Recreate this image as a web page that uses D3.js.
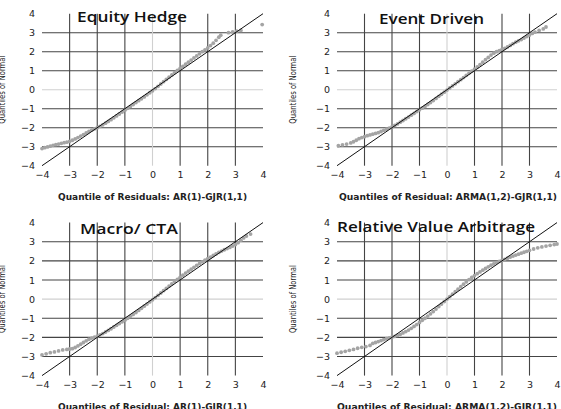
<!DOCTYPE html>
<html>
<head>
<meta charset="utf-8">
<script src="https://cdn.jsdelivr.net/npm/d3@7"></script>
<style>
  body { margin: 0; background: #fff; }
  svg { display: block; }
</style>
</head>
<body>
<div id="chart"></div>
<script>
// Tick values shared by every panel
const TICKS = [-4, -3, -2, -1, 0, 1, 2, 3, 4];
const GRID_TICKS = [-3, -2, -1, 0, 1, 2, 3];

const titles = ["Equity Hedge", "Event Driven", "Macro/ CTA", "Relative Value Arbitrage"];
const xTitles = [
    "Quantile of Residuals: AR(1)-GJR(1,1)",
    "Quantiles of Residual: ARMA(1,2)-GJR(1,1)",
    "Quantiles of Residual: AR(1)-GJR(1,1)",
    "Quantiles of Residual: ARMA(1,2)-GJR(1,1)"
];
const yTitle = "Quantiles of Normal";

// QQ points [residual quantile, normal quantile]
const equityHedge = [
    [-4.0,-3.1],[-3.9,-3.05],[-3.8,-3.01],[-3.7,-2.97],[-3.6,-2.93],[-3.5,-2.89],[-3.4,-2.86],
    [-3.3,-2.82],[-3.2,-2.79],[-3.1,-2.76],[-3.0,-2.72],[-2.9,-2.66],[-2.8,-2.59],[-2.7,-2.52],
    [-2.6,-2.44],[-2.5,-2.36],[-2.4,-2.28],[-2.3,-2.2],[-2.2,-2.13],[-2.1,-2.06],[-2.0,-2.0],
    [-1.9,-1.93],[-1.8,-1.85],[-1.7,-1.76],[-1.6,-1.67],[-1.5,-1.58],[-1.4,-1.48],[-1.3,-1.38],
    [-1.2,-1.28],[-1.1,-1.18],[-1.0,-1.08],[-0.9,-0.98],[-0.8,-0.88],[-0.7,-0.78],[-0.6,-0.68],
    [-0.5,-0.58],[-0.4,-0.48],[-0.3,-0.38],[-0.2,-0.27],[-0.1,-0.16],[0.0,-0.06],[0.1,0.06],
    [0.2,0.18],[0.3,0.3],[0.4,0.42],[0.5,0.54],[0.6,0.66],[0.7,0.78],[0.8,0.9],[0.9,1.01],
    [1.0,1.12],[1.1,1.23],[1.2,1.34],[1.3,1.45],[1.4,1.56],[1.5,1.67],[1.6,1.78],[1.7,1.89],
    [1.8,2.0],[1.9,2.1],[2.0,2.2],[2.1,2.32],[2.2,2.45],[2.3,2.6],[2.4,2.76],[2.47,2.87],
    [2.75,3.0],[2.9,3.04],[3.05,3.08],[3.2,3.12],[3.97,3.43]
];
const eventDriven = [
    [-3.95,-2.95],[-3.8,-2.9],[-3.65,-2.86],[-3.5,-2.8],[-3.4,-2.74],[-3.3,-2.66],[-3.2,-2.58],
    [-3.1,-2.52],[-3.0,-2.47],[-2.9,-2.42],[-2.8,-2.38],[-2.7,-2.34],[-2.6,-2.3],[-2.5,-2.26],
    [-2.4,-2.2],[-2.3,-2.14],[-2.2,-2.08],[-2.1,-2.02],[-2.0,-1.96],[-1.9,-1.88],[-1.8,-1.8],
    [-1.7,-1.71],[-1.6,-1.62],[-1.5,-1.53],[-1.4,-1.44],[-1.3,-1.34],[-1.2,-1.25],[-1.1,-1.15],
    [-1.0,-1.06],[-0.9,-0.97],[-0.8,-0.88],[-0.7,-0.78],[-0.6,-0.68],[-0.5,-0.57],[-0.4,-0.46],
    [-0.3,-0.35],[-0.2,-0.24],[-0.1,-0.13],[0.0,-0.02],[0.1,0.09],[0.2,0.2],[0.3,0.31],
    [0.4,0.42],[0.5,0.53],[0.6,0.64],[0.7,0.75],[0.8,0.86],[0.9,0.97],[1.0,1.08],[1.1,1.2],
    [1.2,1.32],[1.3,1.45],[1.4,1.58],[1.5,1.7],[1.6,1.82],[1.7,1.92],[1.8,2.0],[1.9,2.06],
    [2.0,2.12],[2.1,2.18],[2.2,2.25],[2.3,2.33],[2.4,2.42],[2.5,2.5],[2.6,2.57],[2.7,2.64],
    [2.8,2.72],[2.9,2.8],[3.0,2.88],[3.1,2.96],[3.2,3.03],[3.35,3.12],[3.5,3.2],[3.6,3.3]
];
const macroCta = [
    [-4.0,-2.92],[-3.85,-2.86],[-3.7,-2.8],[-3.55,-2.76],[-3.4,-2.71],[-3.25,-2.66],[-3.1,-2.63],
    [-3.0,-2.61],[-2.9,-2.59],[-2.8,-2.53],[-2.7,-2.45],[-2.6,-2.36],[-2.5,-2.27],[-2.4,-2.18],
    [-2.3,-2.1],[-2.2,-2.04],[-2.1,-1.99],[-2.0,-1.94],[-1.9,-1.87],[-1.8,-1.8],[-1.7,-1.72],
    [-1.6,-1.64],[-1.5,-1.55],[-1.4,-1.46],[-1.3,-1.37],[-1.2,-1.28],[-1.1,-1.19],[-1.0,-1.1],
    [-0.9,-1.0],[-0.8,-0.9],[-0.7,-0.8],[-0.6,-0.7],[-0.5,-0.59],[-0.4,-0.48],[-0.3,-0.37],
    [-0.2,-0.26],[-0.1,-0.15],[0.0,-0.04],[0.1,0.08],[0.2,0.2],[0.3,0.32],[0.4,0.44],
    [0.5,0.56],[0.6,0.68],[0.7,0.8],[0.8,0.92],[0.9,1.03],[1.0,1.14],[1.1,1.25],[1.2,1.36],
    [1.3,1.46],[1.4,1.56],[1.5,1.66],[1.6,1.76],[1.7,1.85],[1.8,1.95],[1.9,2.04],[2.0,2.12],
    [2.1,2.2],[2.2,2.28],[2.3,2.36],[2.4,2.44],[2.5,2.51],[2.6,2.58],[2.7,2.64],[2.8,2.7],
    [2.9,2.77],[3.0,2.85],[3.1,2.95],[3.2,3.08],[3.3,3.2],[3.4,3.3],[3.55,3.4]
];
const relativeValue = [
    [-4.0,-2.83],[-3.85,-2.78],[-3.7,-2.73],[-3.55,-2.68],[-3.4,-2.63],[-3.25,-2.57],[-3.1,-2.52],
    [-2.95,-2.48],[-2.8,-2.42],[-2.7,-2.32],[-2.6,-2.27],[-2.5,-2.22],[-2.4,-2.17],[-2.3,-2.12],
    [-2.2,-2.07],[-2.1,-2.03],[-2.0,-1.99],[-1.9,-1.95],[-1.8,-1.9],[-1.7,-1.84],[-1.6,-1.77],
    [-1.5,-1.7],[-1.4,-1.62],[-1.3,-1.53],[-1.2,-1.43],[-1.1,-1.33],[-1.0,-1.22],[-0.9,-1.11],
    [-0.8,-1.0],[-0.7,-0.89],[-0.6,-0.77],[-0.5,-0.65],[-0.4,-0.52],[-0.3,-0.39],[-0.2,-0.26],
    [-0.1,-0.13],[0.0,0.0],[0.1,0.13],[0.2,0.26],[0.3,0.39],[0.4,0.52],[0.5,0.65],[0.6,0.78],
    [0.7,0.9],[0.8,1.02],[0.9,1.13],[1.0,1.23],[1.1,1.33],[1.2,1.42],[1.3,1.51],[1.4,1.6],
    [1.5,1.69],[1.6,1.77],[1.7,1.84],[1.8,1.91],[1.9,1.97],[2.0,2.02],[2.1,2.08],[2.2,2.14],
    [2.3,2.2],[2.4,2.25],[2.5,2.3],[2.6,2.35],[2.7,2.4],[2.8,2.45],[2.9,2.5],[3.0,2.55],
    [3.15,2.62],[3.3,2.68],[3.45,2.73],[3.6,2.77],[3.75,2.81],[3.9,2.85],[4.0,2.88]
];
const series = [equityHedge, eventDriven, macroCta, relativeValue];

const WIDTH = 561, HEIGHT = 409;

// Pixel layout of each panel (plot area + title placement)
const panels = [
    {x: [42, 263], y: [165.7, 13.7], title: [77, 22, 110], xTitle: [58, 200, 189], yTitleX: 5},
    {x: [337, 557], y: [165.7, 13.7], title: [379, 24.3, 105], xTitle: [339, 200, 218], yTitleX: 296},
    {x: [42, 263], y: [375.6, 222.6], title: [80, 234.3, 98], xTitle: [58, 409.8, 189], yTitleX: 5},
    {x: [337, 557], y: [375.6, 222.6], title: [337, 231.7, 198], xTitle: [337, 409.8, 220], yTitleX: 296}
];

let svg = d3.select("#chart")
    .append("svg")
    .attr("width", WIDTH)
    .attr("height", HEIGHT);

panels.forEach(function(p, i) {
    let x = d3.scaleLinear().domain([-4, 4]).range(p.x);
    let y = d3.scaleLinear().domain([-4, 4]).range(p.y);
    let g = svg.append("g");

    // Grid lines (the zero lines are lighter)
    g.selectAll("line.h").data(GRID_TICKS).enter()
        .append("line")
        .attr("x1", x(-4)).attr("x2", x(4))
        .attr("y1", d => y(d)).attr("y2", d => y(d))
        .attr("stroke", d => d === 0 ? "#d0d0d0" : "#444")
        .attr("stroke-width", 1.1);
    g.selectAll("line.v").data(GRID_TICKS).enter()
        .append("line")
        .attr("y1", y(-4)).attr("y2", y(4))
        .attr("x1", d => x(d)).attr("x2", d => x(d))
        .attr("stroke", d => d === 0 ? "#d0d0d0" : "#444")
        .attr("stroke-width", 1.1);

    // Tick labels
    let xAxis = g.append("g")
        .attr("transform", `translate(0, ${y(-4)})`)
        .call(d3.axisBottom(x).tickValues(TICKS).tickSize(0).tickPadding(5.5));
    let yAxis = g.append("g")
        .attr("transform", `translate(${x(-4)}, 0)`)
        .call(d3.axisLeft(y).tickValues(TICKS).tickSize(0).tickPadding(7));
    [xAxis, yAxis].forEach(function(a) {
        a.select(".domain").remove();
        a.attr("font-family", "'DejaVu Sans', Verdana, sans-serif")
            .attr("font-size", 9.5);
        a.selectAll("text").attr("fill", "#222");
    });

    // QQ points
    g.selectAll("circle").data(series[i]).enter()
        .append("circle")
        .attr("cx", d => x(d[0]))
        .attr("cy", d => y(d[1]))
        .attr("r", 1.9)
        .attr("fill", "#a4a4a4");

    // 45 degree reference line
    g.append("line")
        .attr("x1", x(-4)).attr("y1", y(-4))
        .attr("x2", x(4)).attr("y2", y(4))
        .attr("stroke", "#111")
        .attr("stroke-width", 1);

    // Panel title
    g.append("text")
        .attr("x", p.title[0])
        .attr("y", p.title[1])
        .attr("textLength", p.title[2])
        .attr("lengthAdjust", "spacingAndGlyphs")
        .style("font-family", "'Open Sans', sans-serif")
        .style("font-size", "13.5px")
        .style("font-weight", 600)
        .attr("fill", "#111")
        .text(titles[i]);

    // X axis title
    g.append("text")
        .attr("x", p.xTitle[0])
        .attr("y", p.xTitle[1])
        .attr("textLength", p.xTitle[2])
        .attr("lengthAdjust", "spacingAndGlyphs")
        .style("font-family", "'DejaVu Sans', Verdana, sans-serif")
        .style("font-size", "8.5px")
        .style("font-weight", "bold")
        .attr("fill", "#222")
        .text(xTitles[i]);

    // Y axis title
    let cy = (p.y[0] + p.y[1]) / 2;
    g.append("text")
        .attr("transform", `translate(${p.yTitleX}, ${cy}) rotate(-90)`)
        .attr("text-anchor", "middle")
        .attr("textLength", 68)
        .attr("lengthAdjust", "spacingAndGlyphs")
        .style("font-family", "'Liberation Sans Narrow', 'DejaVu Sans Condensed', sans-serif")
        .style("font-size", "8.5px")
        .attr("fill", "#222")
        .text(yTitle);
});
</script>
</body>
</html>
